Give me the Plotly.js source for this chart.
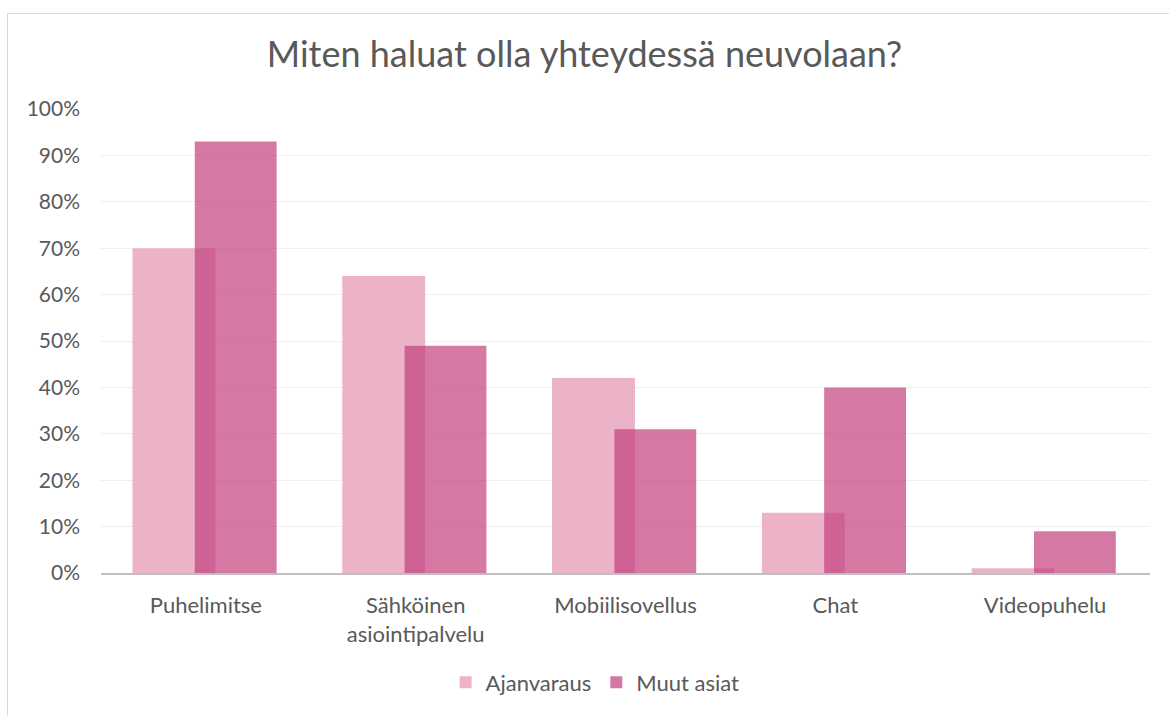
<!DOCTYPE html>
<html>
<head>
<meta charset="utf-8">
<script src="https://cdn.plot.ly/plotly-3.0.1.min.js"></script>
<style>
  body { margin: 0; background: #fff; }
  #frame { position: absolute; left: 7px; top: 13px; width: 1170px; height: 710px;
           border-left: 1px solid #d9d9d9; border-top: 1px solid #d9d9d9; pointer-events: none; }
  #chart { position: absolute; left: 0; top: 0; width: 1169px; height: 716px; }
</style>
</head>
<body>
<div id="chart"></div>
<div id="frame"></div>
<script>
// Chart data
const categories = ['Puhelimitse', 'Sähköinen<br>asiointipalvelu', 'Mobiilisovellus', 'Chat', 'Videopuhelu'];
const ajanvaraus = [0.70, 0.64, 0.42, 0.13, 0.01];
const muutAsiat = [0.93, 0.49, 0.31, 0.40, 0.09];
const yTicks = [0, 0.1, 0.2, 0.3, 0.4, 0.5, 0.6, 0.7, 0.8, 0.9, 1.0];

const font = 'Lato, "Open Sans", sans-serif';
const textColor = '#595959';

const traces = [
  {
    name: 'Ajanvaraus',
    x: categories,
    y: ajanvaraus,
    type: 'bar',
    offset: -0.35,
    width: 0.395,
    marker: { color: 'rgb(236,178,200)' },
    hoverinfo: 'skip'
  },
  {
    name: 'Muut asiat',
    x: categories,
    y: muutAsiat,
    type: 'bar',
    offset: -0.053,
    width: 0.39,
    marker: { color: 'rgba(195,64,125,0.7)' },
    hoverinfo: 'skip'
  }
];

const layout = {
  width: 1169,
  height: 716,
  margin: { l: 101, r: 19, t: 109, b: 141 },
  paper_bgcolor: '#fff',
  plot_bgcolor: '#fff',
  barmode: 'overlay',
  font: { family: font, color: textColor, size: 21 },
  title: {
    text: 'Miten haluat olla yhteydessä neuvolaan?',
    font: { family: font, size: 36, color: textColor },
    x: 0.5, xanchor: 'center',
    y: 58, yref: 'container', yanchor: 'middle'
  },
  xaxis: {
    type: 'category',
    showgrid: false,
    showline: true,
    linecolor: '#bfbfbf',
    linewidth: 2,
    ticks: '',
    ticklabelstandoff: 12,
    tickfont: { size: 22, color: textColor },
    fixedrange: true
  },
  yaxis: {
    range: [0, 1.0],
    tickvals: yTicks,
    tickformat: '.0%',
    showgrid: true,
    gridcolor: '#efefef',
    gridwidth: 1,
    zeroline: false,
    showline: false,
    ticks: '',
    ticklabelstandoff: 20,
    tickfont: { size: 21, color: textColor },
    fixedrange: true
  },
  showlegend: true,
  legend: {
    orientation: 'h',
    x: 0.471, xanchor: 'center',
    y: -0.236, yanchor: 'middle',
    font: { size: 22, color: textColor },
    itemwidth: 30
  }
};

Plotly.newPlot('chart', traces, layout, { displayModeBar: false, staticPlot: true });
</script>
</body>
</html>
